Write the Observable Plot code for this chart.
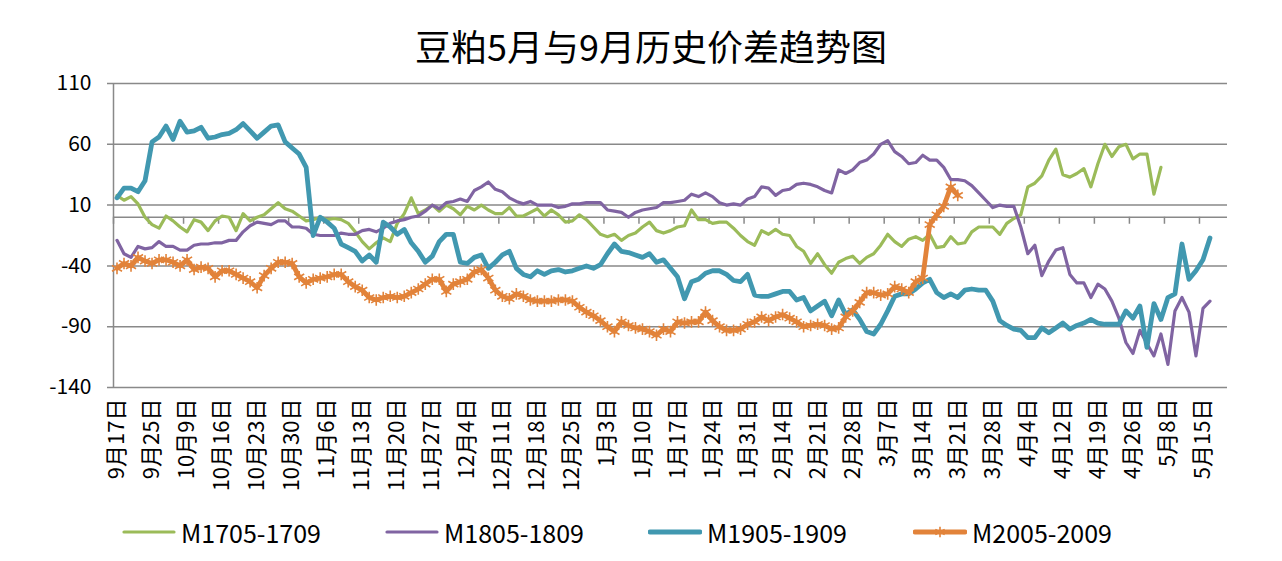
<!DOCTYPE html>
<html>
<head>
<meta charset="utf-8">
<script src="https://cdn.jsdelivr.net/npm/d3@7"></script>
<script src="https://cdn.jsdelivr.net/npm/@observablehq/plot@0.6"></script>
<style>
  html, body { margin: 0; padding: 0; background: #fff; }
  #wrap { position: relative; width: 1282px; height: 561px; overflow: hidden;
          font-family: "Noto Sans CJK SC", "Noto Sans", sans-serif; color: #000; }
  #title { position: absolute; left: 10px; top: 25px; width: 1282px; text-align: center;
           font-size: 36px; line-height: 40px; }
  #chart { position: absolute; left: 0; top: 0; }
  .leg { position: absolute; top: 516px; height: 32px; display: flex; align-items: center;
         font-size: 25px; line-height: 32px; white-space: nowrap; }
  .leg svg { margin-right: 5px; }
</style>
</head>
<body>
<div id="wrap">
  <div id="chart"></div>
  <div id="title">豆粕5月与9月历史价差趋势图</div>
  <div id="legendBox"></div>
</div>
<script>
// ---------------- data ----------------
const tickLabels = ["9月17日","9月25日","10月9日","10月16日","10月23日","10月30日","11月6日","11月13日",
  "11月20日","11月27日","12月4日","12月11日","12月18日","12月25日","1月3日","1月10日","1月17日",
  "1月24日","1月31日","2月14日","2月21日","2月28日","3月7日","3月14日","3月21日","3月28日",
  "4月4日","4月12日","4月19日","4月26日","5月8日","5月15日"];
const categoryCount = 159;     // trading days on the category axis
const labelEvery = 5;          // one label / tick every 5 categories
const yTicks = [-140, -90, -40, 10, 60, 110];
const seriesNames = ["M1705-1709", "M1805-1809", "M1905-1909", "M2005-2009"];

const m1705 = [18,14,17,11,0,-6,-9,1,-3,-8, -12,-2,-4,-11,-3,1,0,-11,3,-3,
  0,2,7,12,7,5,1,-3,-2,0, -2,-1,-2,-5,-12,-20,-26,-21,-17,-20,
  -5,3,16,3,6,10,5,10,7,2, 9,6,10,6,3,3,8,1,1,4,
  7,1,6,2,-4,-3,2,-2,-8,-14, -16,-14,-19,-15,-13,-8,-4,-11,-13,-11,
  -8,-7,6,-2,-2,-5,-4,-4,-9,-15, -20,-23,-11,-14,-10,-14,-15,-24,-28,-38,
  -30,-39,-46,-37,-34,-32,-38,-33,-30,-23, -14,-20,-24,-18,-16,-19,-14,-25,-24,-16,
  -22,-21,-12,-8,-8,-8,-14,-5,-1,2, 25,28,34,47,56,35,33,36,40,25,
  44,60,50,58,60,48,52,52,19,41];

const m1805 = [-19,-30,-33,-24,-26,-25,-20,-24,-24,-27, -27,-23,-22,-22,-21,-21,-19,-19,-12,-7,
  -4,-5,-6,-3,-3,-8,-8,-9,-14,-15, -15,-15,-13,-14,-14,-11,-10,-12,-9,-5,
  -3,-2,0,1,5,10,7,12,13,15, 13,22,25,29,23,21,16,13,11,13,
  10,10,10,8,9,11,11,12,12,12, 6,5,4,0,4,6,7,8,12,12,
  13,14,19,17,20,17,12,10,11,10, 15,17,25,24,18,22,23,27,28,27,
  25,22,20,39,36,39,45,47,52,60, 63,54,50,44,45,51,47,47,41,31,
  31,30,26,20,14,8,10,9,9,-8, -30,-23,-48,-36,-27,-25,-47,-54,-54,-66,
  -55,-59,-69,-83,-103,-112,-93,-104,-114,-96, -121,-77,-66,-78,-114,-75,-69];

const m1905 = [16,24,24,21,30,62,66,75,64,79, 70,71,74,65,66,68,69,72,77,71,
  65,70,75,76,62,57,52,41,-15,0, -4,-9,-22,-25,-28,-36,-31,-37,-4,-8,
  -14,-10,-21,-28,-37,-32,-20,-14,-14,-37, -38,-33,-31,-42,-37,-31,-28,-42,-47,-49,
  -44,-47,-44,-43,-45,-44,-42,-40,-42,-39, -30,-22,-28,-29,-31,-33,-30,-37,-35,-42,
  -49,-67,-53,-51,-46,-44,-44,-47,-52,-53, -47,-64,-65,-65,-63,-61,-61,-68,-66,-77,
  -73,-69,-81,-68,-80,-76,-84,-94,-96,-88, -77,-65,-63,-63,-59,-54,-51,-62,-66,-63,
  -66,-60,-59,-60,-60,-69,-85,-89,-92,-93, -99,-99,-91,-95,-91,-87,-92,-89,-87,-84,
  -87,-88,-88,-88,-77,-83,-73,-107,-71,-84, -66,-63,-22,-51,-44,-35,-17];

const m2005 = [-42,-38,-40,-33,-36,-38,-35,-35,-37,-40, -35,-43,-41,-42,-49,-44,-44,-47,-50,-53,
  -58,-48,-42,-37,-37,-38,-49,-54,-51,-50, -49,-47,-47,-53,-57,-60,-66,-68,-66,-65,
  -66,-65,-62,-59,-55,-51,-51,-61,-55,-53, -51,-45,-43,-50,-60,-65,-67,-63,-65,-68,
  -69,-69,-69,-68,-68,-69,-74,-78,-81,-85, -90,-94,-86,-89,-91,-92,-94,-97,-92,-94,
  -86,-87,-86,-86,-78,-85,-90,-93,-93,-92, -88,-86,-82,-85,-82,-80,-83,-86,-90,-89,
  -88,-89,-92,-91,-82,-77,-70,-62,-62,-64, -63,-57,-59,-62,-53,-50,-6,2,9,25,
  18];

// ---------------- style ----------------
const colors = ["#9BBB59", "#8064A2", "#4198B0", "#E2833A"];
const widths = [3.2, 3.2, 4.8, 4.8];
const gridColor = "#898989";
const fontFamily = '"Noto Sans CJK SC", "Noto Sans", sans-serif';

const seriesValues = [m1705, m1805, m1905, m2005];
const seriesRows = seriesValues.map((vals, s) => vals.map((v, i) => ({i, v, s: seriesNames[s]})));
const boundaryTicks = d3.range(0, categoryCount, labelEvery).map(k => k - 0.5);
const labelRows = tickLabels.map((t, k) => ({t, i: k * labelEvery}));

const lineMarks = seriesRows.map((rows, s) =>
  Plot.line(rows, {x: "i", y: "v", stroke: colors[s], strokeWidth: widths[s],
                   strokeLinejoin: "round", strokeLinecap: "round"}));

const chart = Plot.plot({
  width: 1282, height: 561,
  marginLeft: 113, marginRight: 55, marginTop: 83, marginBottom: 174,
  x: {type: "linear", domain: [-0.5, categoryCount - 0.5], axis: null},
  y: {type: "linear", domain: [yTicks[0], yTicks[yTicks.length - 1]], axis: null},
  style: {fontFamily, background: "transparent", color: "#000", overflow: "visible"},
  marks: [
    Plot.ruleY(yTicks, {y: d => d, stroke: gridColor, strokeWidth: 1.5, insetLeft: -6}),
    Plot.ruleX([-0.5], {x: d => d, stroke: gridColor, strokeWidth: 1.5}),
    Plot.ruleY([0], {y: d => d, stroke: gridColor, strokeWidth: 1.5}),
    Plot.ruleX(boundaryTicks, {x: d => d, y1: () => 0, y2: () => 0, insetBottom: -7,
                               stroke: gridColor, strokeWidth: 1.5}),
    Plot.text(yTicks, {y: d => d, text: d => String(d), frameAnchor: "left",
                       textAnchor: "end", dx: -22, fontSize: 21, fill: "#000"}),
    Plot.text(labelRows, {x: "i", text: "t", frameAnchor: "bottom", rotate: -90,
                          textAnchor: "end", lineAnchor: "middle", dy: 11,
                          fontSize: 22, fill: "#000"}),
    ...lineMarks,
    Plot.dot(seriesRows[3], {x: "i", y: "v", symbol: "asterisk", r: 5.5,
                             stroke: colors[3], strokeWidth: 1.6})
  ]
});
document.getElementById("chart").appendChild(chart);

// ---------------- legend ----------------
const legendLeft = [122, 385, 648, 913];
const box = document.getElementById("legendBox");
seriesNames.forEach((name, s) => {
  const item = document.createElement("div");
  item.className = "leg";
  item.style.left = legendLeft[s] + "px";
  const sw = d3.create("svg").attr("width", 54).attr("height", 20);
  sw.append("line").attr("x1", 2).attr("x2", 52).attr("y1", 10).attr("y2", 10)
    .attr("stroke", colors[s]).attr("stroke-width", widths[s]).attr("stroke-linecap", "round");
  if (s === 3) {
    const sym = d3.symbol(d3.symbolAsterisk, 80);
    sw.append("path").attr("d", sym()).attr("transform", "translate(27,10)")
      .attr("stroke", colors[s]).attr("stroke-width", 1.6).attr("fill", "none");
  }
  item.appendChild(sw.node());
  const span = document.createElement("span");
  span.textContent = name;
  item.appendChild(span);
  box.appendChild(item);
});
</script>
</body>
</html>
